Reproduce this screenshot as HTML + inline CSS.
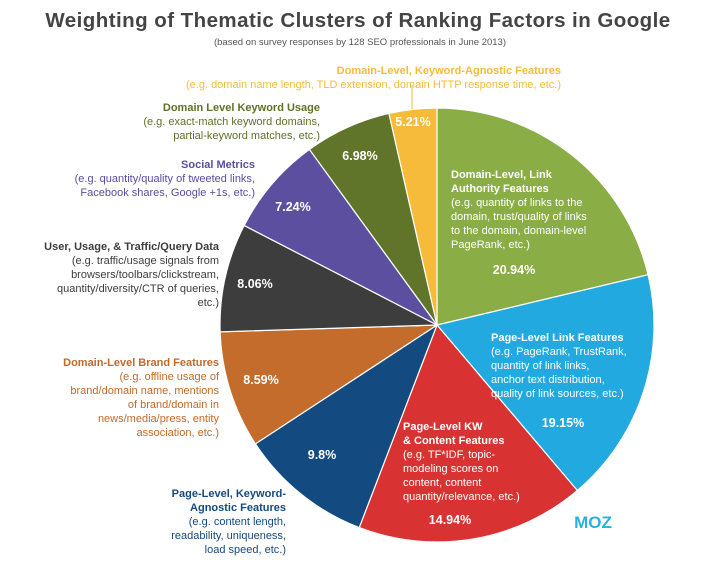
<!DOCTYPE html>
<html><head><meta charset="utf-8"><style>
body{margin:0;width:720px;height:574px;background:#fff;font-family:"Liberation Sans",sans-serif;overflow:hidden}
svg text{font-family:"Liberation Sans",sans-serif}
</style></head><body>
<svg width="720" height="574" viewBox="0 0 720 574" xmlns="http://www.w3.org/2000/svg">
<text x="358" y="27" text-anchor="middle" font-size="20.5" font-weight="bold" fill="#444" letter-spacing="0.45">Weighting of Thematic Clusters of Ranking Factors in Google</text>
<text x="360" y="45" text-anchor="middle" font-size="9.5" fill="#555">(based on survey responses by 128 SEO professionals in June 2013)</text>
<g stroke="#fff" stroke-width="1.2" id="pie"></g>
<line x1="412" y1="85" x2="412" y2="109" stroke="#f6bb3a" stroke-width="1"/>
<g font-size="11" fill="#f6bb3a" text-anchor="end">
<text x="561" y="74" font-weight="bold">Domain-Level, Keyword-Agnostic Features</text>
<text x="561" y="88">(e.g. domain name length, TLD extension, domain HTTP response time, etc.)</text></g>
<g font-size="11" fill="#5e7128" text-anchor="end">
<text x="320" y="111" font-weight="bold">Domain Level Keyword Usage</text>
<text x="320" y="125">(e.g. exact-match keyword domains,</text>
<text x="320" y="139">partial-keyword matches, etc.)</text></g>
<g font-size="11" fill="#5b4d9e" text-anchor="end">
<text x="255" y="168" font-weight="bold">Social Metrics</text>
<text x="255" y="182">(e.g. quantity/quality of tweeted links,</text>
<text x="255" y="196">Facebook shares, Google +1s, etc.)</text></g>
<g font-size="11" fill="#3d3d3d" text-anchor="end">
<text x="219" y="250" font-weight="bold">User, Usage, &amp; Traffic/Query Data</text>
<text x="219" y="264">(e.g. traffic/usage signals from</text>
<text x="219" y="278">browsers/toolbars/clickstream,</text>
<text x="219" y="292">quantity/diversity/CTR of queries,</text>
<text x="219" y="306">etc.)</text></g>
<g font-size="11" fill="#c06a2b" text-anchor="end">
<text x="219" y="366" font-weight="bold">Domain-Level Brand Features</text>
<text x="219" y="380">(e.g. offline usage of</text>
<text x="219" y="394">brand/domain name, mentions</text>
<text x="219" y="408">of brand/domain in</text>
<text x="219" y="422">news/media/press, entity</text>
<text x="219" y="436">association, etc.)</text></g>
<g font-size="11" fill="#164a7e" text-anchor="end">
<text x="286" y="497" font-weight="bold">Page-Level, Keyword-</text>
<text x="286" y="511" font-weight="bold">Agnostic Features</text>
<text x="286" y="525">(e.g. content length,</text>
<text x="286" y="539">readability, uniqueness,</text>
<text x="286" y="553">load speed, etc.)</text></g>
<g font-size="12.5" font-weight="bold" fill="#fff" text-anchor="middle">
<text x="413" y="126">5.21%</text>
<text x="360" y="160">6.98%</text>
<text x="293" y="211">7.24%</text>
<text x="255" y="288">8.06%</text>
<text x="261" y="384">8.59%</text>
<text x="322" y="459">9.8%</text>
<text x="450" y="524">14.94%</text>
<text x="563" y="427">19.15%</text>
<text x="514" y="274">20.94%</text></g>
<g font-size="11" fill="#fff">
<text x="451" y="178" font-weight="bold">Domain-Level, Link</text>
<text x="451" y="192" font-weight="bold">Authority Features</text>
<text x="451" y="206">(e.g. quantity of links to the</text>
<text x="451" y="220">domain, trust/quality of links</text>
<text x="451" y="234">to the domain, domain-level</text>
<text x="451" y="248">PageRank, etc.)</text>
<text x="491" y="341" font-weight="bold">Page-Level Link Features</text>
<text x="491" y="355">(e.g. PageRank, TrustRank,</text>
<text x="491" y="369">quantity of link links,</text>
<text x="491" y="383">anchor text distribution,</text>
<text x="491" y="397">quality of link sources, etc.)</text>
<text x="403" y="430" font-weight="bold">Page-Level KW</text>
<text x="403" y="444" font-weight="bold">&amp; Content Features</text>
<text x="403" y="458">(e.g. TF*IDF, topic-</text>
<text x="403" y="472">modeling scores on</text>
<text x="403" y="486">content, content</text>
<text x="403" y="500">quantity/relevance, etc.)</text></g>
<text x="593" y="528" text-anchor="middle" font-size="17" font-weight="bold" fill="#2ab0e3">MOZ</text>
</svg>
<script>
var cx=437,cy=325,r=217;
var b=[0,76.6,139.7,201,236.8,268.2,297.3,324,347.2,360];
var c=["#8aae45","#22a9e0","#d83232","#134a80","#c46c2b","#3d3d3d","#5d4f9f","#60752a","#f6bb3a"];
var g=document.getElementById("pie"),s="";
function p(a){a=a*Math.PI/180;return (cx+r*Math.sin(a)).toFixed(2)+","+(cy-r*Math.cos(a)).toFixed(2);}
for(var i=0;i<9;i++){var l=b[i+1]-b[i]>180?1:0;
s+='<path fill="'+c[i]+'" d="M'+cx+','+cy+' L'+p(b[i])+' A'+r+','+r+' 0 '+l+' 1 '+p(b[i+1])+' Z"/>';}
g.innerHTML=s;
</script>
</body></html>
